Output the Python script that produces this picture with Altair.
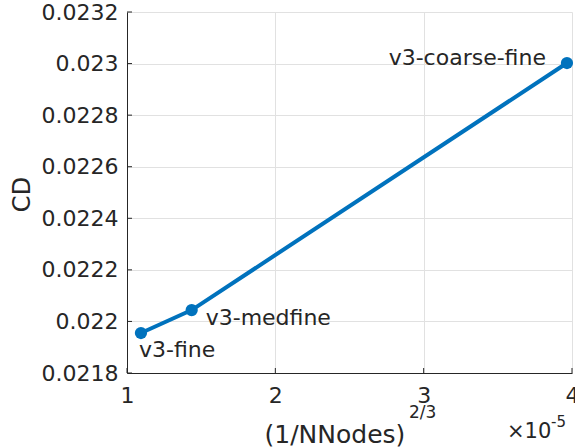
import altair as alt
import pandas as pd

# Grid-convergence data: drag coefficient vs. (1/NNodes)^(2/3)
cases = ["v3-fine", "v3-medfine", "v3-coarse-fine"]
h_values = [1.094e-5, 1.436e-5, 3.966e-5]
cd_values = [0.021955, 0.022044, 0.0230022]

x_ticks = [1e-5, 2e-5, 3e-5, 4e-5]
y_ticks = [0.0218, 0.0220, 0.0222, 0.0224, 0.0226, 0.0228, 0.0230, 0.0232]

BLUE = "#0072BD"
INK = "#262626"
GRID = "#e1e1e1"
FONT = "DejaVu Sans"

W, H = 445, 361

df = pd.DataFrame({"case": cases, "h": h_values, "cd": cd_values})
xt = pd.DataFrame({"h": x_ticks})
yt = pd.DataFrame({"cd": y_ticks})

x_scale = alt.Scale(domain=[1e-5, 4e-5], nice=False, zero=False)
y_scale = alt.Scale(domain=[0.0218, 0.0232], nice=False, zero=False)

x_enc = alt.X(
    "h:Q",
    scale=x_scale,
    axis=alt.Axis(
        values=x_ticks,
        labelExpr="format(datum.value * 1e5, '~g')",
        title="(1/NNodes)",
        titleFontSize=25,
        titleFontWeight="normal",
        titleColor=INK,
        titleAlign="left",
        titleAnchor="start",
        titleBaseline="alphabetic",
        titleX=137,
        titleY=69,
        ticks=False,
        labelFontSize=22,
        labelColor=INK,
        labelPadding=12,
        labelFlush=False,
        domainColor=INK,
        domainWidth=1,
        gridColor=GRID,
        gridWidth=1,
    ),
)
y_enc = alt.Y(
    "cd:Q",
    scale=y_scale,
    axis=alt.Axis(
        values=y_ticks,
        format=".3~r",
        title="CD",
        titleFontSize=24,
        titleFontWeight="normal",
        titleColor=INK,
        titleBaseline="alphabetic",
        titleAlign="center",
        titleX=-98,
        titleY=182,
        ticks=False,
        labelFontSize=22,
        labelColor=INK,
        labelPadding=9,
        labelFlush=False,
        domainColor=INK,
        domainWidth=1,
        gridColor=GRID,
        gridWidth=1,
    ),
)

base = alt.Chart(df)

line = base.mark_line(color=BLUE, strokeWidth=4).encode(x=x_enc, y=y_enc)
points = base.mark_circle(color=BLUE, size=150, opacity=1).encode(x="h:Q", y="cd:Q")

# inward-pointing tick marks on the left and bottom axes
x_tick_marks = alt.Chart(xt).mark_rule(color=INK, strokeWidth=1).encode(
    x="h:Q",
    y=alt.value(H),
    y2=alt.value(H - 5),
)
y_tick_marks = alt.Chart(yt).mark_rule(color=INK, strokeWidth=1).encode(
    y="cd:Q",
    x=alt.value(0),
    x2=alt.value(5),
)


def case_label(name, align, dx, dy):
    return base.transform_filter(alt.datum.case == name).mark_text(
        font=FONT, fontSize=22, color=INK, align=align, baseline="alphabetic", dx=dx, dy=dy
    ).encode(x="h:Q", y="cd:Q", text="case:N")


labels = [
    case_label("v3-fine", "left", -2, 24),
    case_label("v3-medfine", "left", 14, 15),
    case_label("v3-coarse-fine", "right", -21, 2),
]

# exponent of the x-axis title and the axis multiplier
notes = pd.DataFrame({
    "txt": ["2/3", "\u00d710", "-5"],
})


def note(txt, x, y, size):
    return alt.Chart(notes).transform_filter(alt.datum.txt == txt).mark_text(
        font=FONT, fontSize=size, color=INK, align="left", baseline="alphabetic"
    ).encode(x=alt.value(x), y=alt.value(y), text="txt:N")


extras = [
    note("2/3", 282, 406, 17),
    note("\u00d710", 380, 426, 21),
    note("-5", 424, 415, 15),
]

chart = alt.layer(x_tick_marks, y_tick_marks, line, points, *labels, *extras).properties(
    width=W,
    height=H,
    autosize=alt.AutoSizeParams(type="none"),
    padding={"left": 127, "top": 12, "right": 3, "bottom": 75},
).configure(font=FONT).configure_view(stroke=None)

chart.save("out.html", embed_options={"renderer": "svg", "actions": False})
